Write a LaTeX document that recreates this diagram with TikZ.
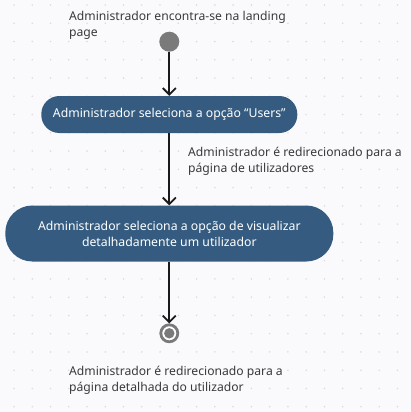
\documentclass[tikz,border=0pt]{standalone}
\usepackage{fontspec}
\setmainfont{Noto Sans}
\usetikzlibrary{arrows.meta}
\definecolor{bgc}{HTML}{FAFAFC}
\definecolor{dotc}{HTML}{DCDCE0}
\definecolor{boxc}{HTML}{355C80}
\definecolor{txtc}{HTML}{3A3A3A}
\definecolor{circc}{HTML}{7A7A7A}
\definecolor{linec}{HTML}{1A1A1A}
\tikzset{
  actbox/.style={draw=none, fill=boxc, rounded corners=18bp, text=white, align=center, font=\fontsize{12.3}{16}\selectfont, inner sep=0pt},
  lbl/.style={text=txtc, align=left, anchor=north west, font=\fontsize{12.2}{16.5}\selectfont, inner sep=0pt},
  flow/.style={draw=linec, line width=1.8bp, -{Straight Barb[length=6.5bp,width=13bp,line width=1.8bp]}},
}
\begin{document}
\begin{tikzpicture}[x=1bp,y=-1bp]
\useasboundingbox (0,0) rectangle (411,412);
\fill[bgc] (0,0) rectangle (411,412);
\foreach \i in {0,...,22}{\foreach \j in {0,...,22}{
  \fill[dotc] (14+18.26*\i,5+18.26*\j) circle (0.9);
}}
\node[circle, fill=circc, minimum size=20bp, inner sep=0pt] (start) at (169.3,41.7) {};
\node[actbox, minimum width=256bp, minimum height=37bp] (a1) at (169.3,114.5) {Administrador seleciona a opção “Users”};
\node[actbox, minimum width=328bp, minimum height=56bp, rounded corners=27bp] (a2) at (169.3,233.5) {Administrador seleciona a opção de visualizar\\detalhadamente um utilizador};
\node[circle, draw=circc, line width=2.8bp, fill=white, minimum size=17bp, inner sep=0pt] (end) at (169.3,333.3) {};
\fill[circc] (end.center) circle (5.2);
\draw[flow] (start) -- (a1);
\draw[flow] (a1) -- (a2);
\draw[flow] (a2) -- (end.north);
\node[lbl] (t1) at (69,10.7) {Administrador encontra-se na landing\\page};
\node[lbl] (t2) at (188,146.7) {Administrador é redirecionado para a\\página de utilizadores};
\node[lbl] (t3) at (69,365.7) {Administrador é redirecionado para a\\página detalhada do utilizador};
\end{tikzpicture}
\end{document}
